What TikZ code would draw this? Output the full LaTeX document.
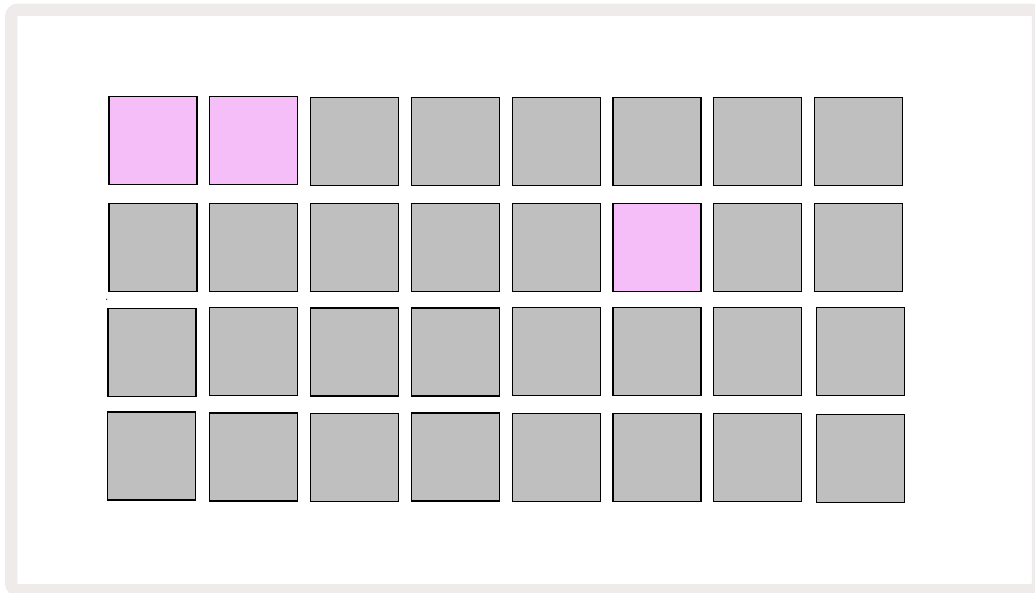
\documentclass[tikz,border=0pt]{standalone}
\usepackage{tikz}
\definecolor{padgray}{HTML}{BFBFBF}
\definecolor{padpink}{HTML}{F5BEF8}
\definecolor{framegray}{HTML}{EFEBEA}

\begin{document}
\begin{tikzpicture}[
x=1pt,y=-1pt,
pad/.style={draw=black,line width=1.2pt,fill=padgray,minimum size=88pt,inner sep=0pt},
padon/.style={pad,fill=padpink},
frame/.style={draw=framegray,line width=12.3pt,rounded corners=7pt}
]
\clip (0,0) rectangle (1035,593);
\fill[white] (0,0) rectangle (1035,593);
\draw[frame] (11.2,9.7) rectangle (1038,590.2);
% row 1
\node[padon] (pad11) at (153,140.8) {};
\node[padon] (pad12) at (253.3,140.8) {};
\node[pad] (pad13) at (354.3,141.8) {};
\node[pad] (pad14) at (455.8,141.8) {};
\node[pad] (pad15) at (556.7,141.8) {};
\node[pad] (pad16) at (657,141.8) {};
\node[pad] (pad17) at (757.7,141.8) {};
\node[pad] (pad18) at (858.8,141.8) {};
% row 2
\node[pad] (pad21) at (153,247.2) {};
\node[pad] (pad22) at (253.2,247.2) {};
\node[pad] (pad23) at (354.3,247.2) {};
\node[pad] (pad24) at (455.8,247.2) {};
\node[pad] (pad25) at (556.7,247.2) {};
\node[padon] (pad26) at (657,247.2) {};
\node[pad] (pad27) at (757.7,247.2) {};
\node[pad] (pad28) at (858.8,247.2) {};
% row 3
\node[pad] (pad31) at (152,352.8) {};
\node[pad] (pad32) at (253.8,351.7) {};
\node[pad] (pad33) at (354.3,352) {};
\node[pad] (pad34) at (455.2,352) {};
\node[pad] (pad35) at (556.3,351.8) {};
\node[pad] (pad36) at (657,351.8) {};
\node[pad] (pad37) at (757.8,351.8) {};
\node[pad] (pad38) at (860.5,351.8) {};
% row 4
\node[pad] (pad41) at (151.2,456) {};
\node[pad] (pad42) at (253.8,457) {};
\node[pad] (pad43) at (354.3,457.3) {};
\node[pad] (pad44) at (455.2,457) {};
\node[pad] (pad45) at (556.3,457.3) {};
\node[pad] (pad46) at (657,457.3) {};
\node[pad] (pad47) at (757.8,457.3) {};
\node[pad] (pad48) at (860.5,458.2) {};
\fill[black] (106.7,299.3) circle (0.6pt);
\end{tikzpicture}
\end{document}
